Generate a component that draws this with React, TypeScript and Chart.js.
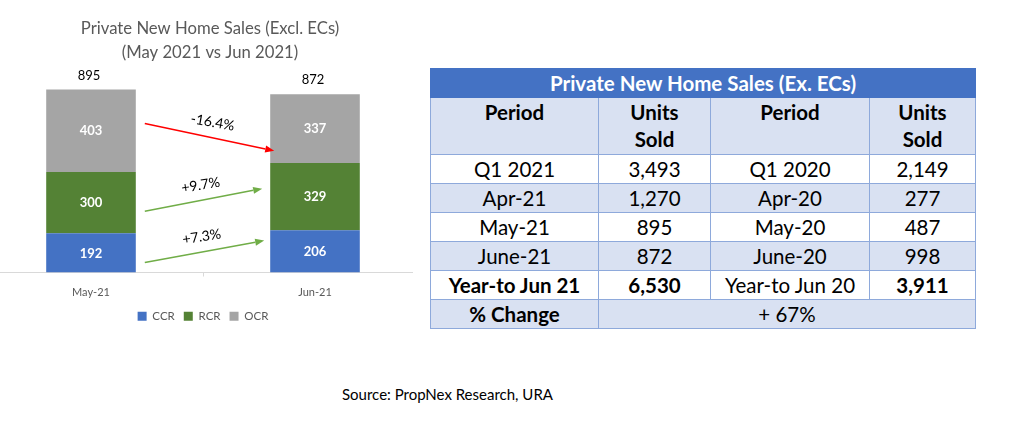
import React, { useEffect, useRef } from 'react';
import { Chart, registerables } from 'chart.js';

Chart.register(...registerables);

// ---------- chart data ----------
const categories = ['May-21', 'Jun-21'];
const seriesNames = ['CCR', 'RCR', 'OCR'];
const ccrValues = [192, 206];
const rcrValues = [300, 329];
const ocrValues = [403, 337];
const chartTitle = ['Private New Home Sales (Excl. ECs)', '(May 2021 vs Jun 2021)'];

// change annotations (values in chart units)
const arrowLabels = ['-16.4%', '+9.7%', '+7.3%'];
const arrowFromValues = [729, 300, 49];
const arrowToValues = [595, 410, 156];

// ---------- table data ----------
const tableTitle = 'Private New Home Sales (Ex. ECs)';
const tableHeaders = ['Period', 'Units Sold', 'Period', 'Units Sold'];
const periods2021 = ['Q1 2021', 'Apr-21', 'May-21', 'June-21', 'Year-to Jun 21'];
const units2021 = ['3,493', '1,270', '895', '872', '6,530'];
const periods2020 = ['Q1 2020', 'Apr-20', 'May-20', 'June-20', 'Year-to Jun 20'];
const units2020 = ['2,149', '277', '487', '998', '3,911'];
const changeLabel = '% Change';
const changeValue = '+ 67%';
const sourceText = 'Source: PropNex Research, URA';

// ---------- styles ----------
const FONT = 'Lato, "Open Sans", sans-serif';
const SERIES_COLORS = ['#4472C4', '#548235', '#A5A5A5'];
const ARROW_COLORS = ['#FF0000', '#70AD47', '#70AD47'];
const ARROW_START_GAP = 9;
const ARROW_END_GAP = [-4, 8, 6];
const LABEL_OFFSET = 15;
const TABLE_BORDER = '1px solid #8EA9DB';
const BAND = '#D9E1F2';

const annotationPlugin = {
  id: 'annotations',
  afterDatasetsDraw(chart: any) {
    const ctx = chart.ctx as CanvasRenderingContext2D;
    const xs = chart.scales.x;
    const ys = chart.scales.y;
    ctx.save();
    // segment labels
    ctx.textAlign = 'center';
    ctx.textBaseline = 'middle';
    ctx.fillStyle = '#FFFFFF';
    ctx.font = `bold 13px ${FONT}`;
    chart.data.datasets.forEach((ds: any, di: number) => {
      const meta = chart.getDatasetMeta(di);
      meta.data.forEach((bar: any, i: number) => {
        const p = bar.getProps(['x', 'y', 'base'], true);
        ctx.fillText(String(ds.data[i]), p.x, (p.y + p.base) / 2 + 0.5);
      });
    });
    // totals
    ctx.fillStyle = '#000000';
    ctx.font = `13px ${FONT}`;
    categories.forEach((_, i) => {
      const total = ccrValues[i] + rcrValues[i] + ocrValues[i];
      ctx.fillText(String(total), xs.getPixelForValue(i) - 2, ys.getPixelForValue(total) - 14);
    });
    // arrows
    const bars = chart.getDatasetMeta(0).data;
    const b0 = bars[0].getProps(['x', 'width'], true);
    const b1 = bars[1].getProps(['x', 'width'], true);
    arrowLabels.forEach((label, i) => {
      const x0 = b0.x + b0.width / 2 + ARROW_START_GAP;
      const x1 = b1.x - b1.width / 2 - ARROW_END_GAP[i];
      const y0 = ys.getPixelForValue(arrowFromValues[i]);
      const y1 = ys.getPixelForValue(arrowToValues[i]);
      const dx = x1 - x0;
      const dy = y1 - y0;
      const len = Math.sqrt(dx * dx + dy * dy);
      const ux = dx / len;
      const uy = dy / len;
      const head = 9;
      const hw = 3.5;
      ctx.strokeStyle = ARROW_COLORS[i];
      ctx.fillStyle = ARROW_COLORS[i];
      ctx.lineWidth = 1.5;
      ctx.beginPath();
      ctx.moveTo(x0, y0);
      ctx.lineTo(x1 - ux * head, y1 - uy * head);
      ctx.stroke();
      ctx.beginPath();
      ctx.moveTo(x1, y1);
      ctx.lineTo(x1 - ux * head - uy * hw, y1 - uy * head + ux * hw);
      ctx.lineTo(x1 - ux * head + uy * hw, y1 - uy * head - ux * hw);
      ctx.closePath();
      ctx.fill();
      // label
      const mx = (x0 + x1) / 2 + uy * LABEL_OFFSET;
      const my = (y0 + y1) / 2 - ux * LABEL_OFFSET;
      ctx.save();
      ctx.translate(mx, my);
      ctx.rotate(Math.atan2(dy, dx) * 0.85);
      ctx.fillStyle = '#000000';
      ctx.font = `14px ${FONT}`;
      ctx.fillText(label, 0, 0);
      ctx.restore();
    });
    ctx.restore();
  },
};

function StackedChart() {
  const ref = useRef<HTMLCanvasElement>(null);
  useEffect(() => {
    if (!ref.current) return;
    const seriesValues = [ccrValues, rcrValues, ocrValues];
    const chart = new Chart(ref.current, {
      type: 'bar',
      data: {
        labels: categories,
        datasets: seriesNames.map((name, i) => ({
          label: name,
          data: seriesValues[i],
          backgroundColor: SERIES_COLORS[i],
          borderWidth: 0,
          barPercentage: 0.4,
          categoryPercentage: 1,
        })),
      },
      options: {
        responsive: false,
        animation: false,
        devicePixelRatio: window.devicePixelRatio || 1,
        layout: { padding: 0 },
        events: [],
        plugins: {
          title: {
            display: true,
            text: chartTitle,
            color: '#595959',
            font: { family: FONT, size: 16.7, weight: 'normal', lineHeight: 24 / 16.7 },
            padding: { top: 17, bottom: 3 },
          },
          legend: {
            position: 'bottom',
            fullSize: false,
            labels: {
              boxWidth: 9,
              boxHeight: 9,
              color: '#595959',
              font: { family: FONT, size: 11.5 },
              padding: 9,
            },
          },
          tooltip: { enabled: false },
        },
        scales: {
          x: {
            stacked: true,
            grid: { display: true, drawOnChartArea: false, drawTicks: true, tickLength: 4, color: '#D9D9D9' },
            border: { display: true, color: '#D9D9D9' },
            ticks: { color: '#595959', font: { family: FONT, size: 11 }, padding: 9 },
            afterFit: (s: any) => { s.height = 29; },
          },
          y: {
            stacked: true,
            min: 0,
            max: 1000,
            position: 'right',
            grid: { display: false },
            border: { display: false },
            ticks: { display: false },
            afterFit: (s: any) => { s.width = 14; },
          },
        },
      },
      plugins: [annotationPlugin],
    } as any);
    return () => chart.destroy();
  }, []);
  return (
    <div style={{ position: 'absolute', left: 0, top: 0, width: 413, height: 340, overflow: 'hidden' }}>
      <canvas ref={ref} width={462} height={332} style={{ position: 'absolute', left: -21, top: 0, width: 462, height: 332 }} />
    </div>
  );
}

function SalesTable() {
  const cell: React.CSSProperties = { border: TABLE_BORDER, padding: 0, textAlign: 'center', verticalAlign: 'middle' };
  const rows = periods2021.map((p, i) => ({ p1: p, u1: units2021[i], p2: periods2020[i], u2: units2020[i] }));
  const last = rows.length - 1;
  return (
    <table
      style={{
        position: 'absolute', left: 430, top: 68, width: 545, borderCollapse: 'collapse', tableLayout: 'fixed',
        fontFamily: FONT, fontSize: 20.5, color: '#000', lineHeight: '27px',
      }}
    >
      <colgroup>
        <col style={{ width: 168 }} />
        <col style={{ width: 112 }} />
        <col style={{ width: 159 }} />
        <col style={{ width: 106 }} />
      </colgroup>
      <tbody>
        <tr style={{ height: 29 }}>
          <td colSpan={4} style={{ ...cell, background: '#4472C4', border: '1px solid #4472C4', color: '#fff', fontWeight: 700 }}>
            {tableTitle}
          </td>
        </tr>
        <tr style={{ height: 57 }}>
          {tableHeaders.map((h, i) => (
            <td key={i} style={{ ...cell, background: BAND, fontWeight: 700, verticalAlign: 'top', paddingTop: 1 }}>
              {h.split(' ').map((w, j) => (<div key={j}>{w}</div>))}
            </td>
          ))}
        </tr>
        {rows.map((r, i) => {
          const bg = i % 2 === 0 ? '#FFFFFF' : BAND;
          const isLast = i === last;
          return (
            <tr key={i} style={{ height: 29 }}>
              <td style={{ ...cell, background: bg, fontWeight: isLast ? 700 : 400 }}>{r.p1}</td>
              <td style={{ ...cell, background: bg, fontWeight: isLast ? 700 : 400 }}>{r.u1}</td>
              <td style={{ ...cell, background: bg }}>{r.p2}</td>
              <td style={{ ...cell, background: bg, fontWeight: isLast ? 700 : 400 }}>{r.u2}</td>
            </tr>
          );
        })}
        <tr style={{ height: 29 }}>
          <td style={{ ...cell, background: BAND, fontWeight: 700 }}>{changeLabel}</td>
          <td colSpan={3} style={{ ...cell, background: BAND }}>{changeValue}</td>
        </tr>
      </tbody>
    </table>
  );
}

export default function App() {
  return (
    <div style={{ position: 'absolute', left: 0, top: 0, width: 1013, height: 434, background: '#fff', overflow: 'hidden' }}>
      <StackedChart />
      <SalesTable />
      <div style={{ position: 'absolute', left: 342, top: 384, fontFamily: FONT, fontSize: 15, lineHeight: '20px', color: '#000', whiteSpace: 'nowrap' }}>
        {sourceText}
      </div>
    </div>
  );
}
